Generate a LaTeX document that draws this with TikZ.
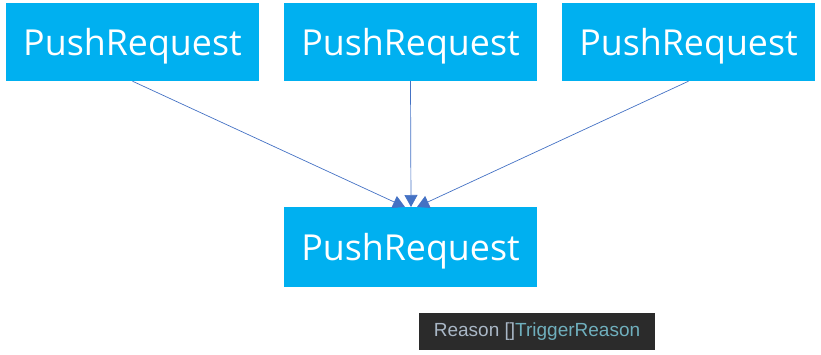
\documentclass[tikz,border=0pt]{standalone}
\usepackage{fontspec}
\usepackage{xcolor}
\usepackage{tikz}
\usetikzlibrary{arrows.meta,positioning}
\newfontfamily\boxfont{Open Sans}
\newfontfamily\codefont{Liberation Sans}
\definecolor{pushblue}{HTML}{00B0F0}
\definecolor{linkblue}{HTML}{4472C4}
\definecolor{codebg}{HTML}{2B2B2B}
\definecolor{codegray}{HTML}{A9B7C6}
\definecolor{codeteal}{HTML}{6FAFBD}

\begin{document}
\begin{tikzpicture}[x=1pt,y=-1pt,
    pushbox/.style={fill=pushblue,text=white,inner sep=0pt,minimum width=253pt,
      text depth=0pt,font=\boxfont\fontsize{35.8}{40}\selectfont},
    link/.style={draw=linkblue,line width=0.7pt,-{Triangle[length=12pt,width=13pt]}}]
        \useasboundingbox (0,0) rectangle (821,355);
        \node[pushbox,minimum height=78pt] (reqa) at (132.5,42) {PushRequest};
        \node[pushbox,minimum height=78pt] (reqb) at (410.5,42) {PushRequest};
        \node[pushbox,minimum height=78pt] (reqc) at (688.5,42) {PushRequest};
        \node[pushbox,minimum height=80pt] (merged) at (410.5,247) {PushRequest};
        \coordinate (ina) at (405,207);
        \coordinate (inb) at (411,207);
        \coordinate (inc) at (417,207);
        \draw[link] (reqa.south) -- (ina);
        \draw[link] (reqb.south) -- (inb);
        \draw[link] (reqc.south) -- (inc);
        \node[fill=codebg,minimum width=236pt,minimum height=37pt,inner sep=0pt,
          font=\codefont\fontsize{19}{22}\selectfont] (reason) at (537,331.5)
          {\textcolor{codegray}{Reason []}\textcolor{codeteal}{TriggerReason}};
      \end{tikzpicture}
\end{document}
